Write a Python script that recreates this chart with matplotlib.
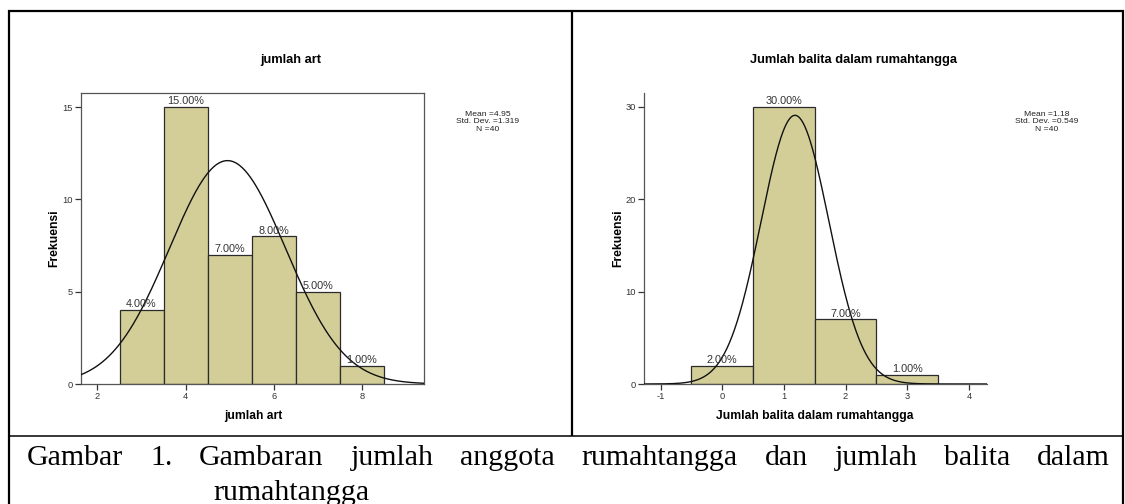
import numpy as np
import matplotlib
matplotlib.use("Agg")
import matplotlib.pyplot as plt
from matplotlib.lines import Line2D

plt.rcParams["axes.unicode_minus"] = False

# ---------------- data ----------------
art_edges = [2.5, 3.5, 4.5, 5.5, 6.5, 7.5, 8.5]
art_counts = [4, 15, 7, 8, 5, 1]
art_labels = ["4.00%", "15.00%", "7.00%", "8.00%", "5.00%", "1.00%"]
art_mean, art_sd, art_n = 4.95, 1.319, 40
art_xticks = [2, 4, 6, 8]
art_yticks = [0, 5, 10, 15]

bal_edges = [-0.5, 0.5, 1.5, 2.5, 3.5]
bal_counts = [2, 30, 7, 1]
bal_labels = ["2.00%", "30.00%", "7.00%", "1.00%"]
bal_mean, bal_sd, bal_n = 1.18, 0.549, 40
bal_xticks = [-1, 0, 1, 2, 3, 4]
bal_yticks = [0, 10, 20, 30]

title_left = "jumlah art"
title_right = "Jumlah balita dalam rumahtangga"
ylabel = "Frekuensi"
caption_line1 = "Gambar 1. Gambaran jumlah anggota rumahtangga dan jumlah balita dalam"
caption_line2 = "rumahtangga"

# ---------------- layout ----------------
W, H = 1125, 504
fig = plt.figure(figsize=(W / 100, H / 100), dpi=100)
fig.patch.set_facecolor("white")

SANS = ["Liberation Sans", "DejaVu Sans"]
SERIF = ["Liberation Serif", "DejaVu Serif"]
BAR_FC = "#D3CE98"
BAR_EC = "#2b2b2b"
SPINE_C = "#555555"


def fx(px):
    return px / W


def fy(py):
    return 1 - py / H


def px_axes(x0, y0, x1, y1):
    return fig.add_axes([fx(x0), fy(y1), fx(x1) - fx(x0), fy(y0) - fy(y1)])


def draw_hist(ax, edges, counts, labels, mean, sd, n, xlim, ylim, xticks, yticks, box):
    edges = np.asarray(edges, float)
    widths = np.diff(edges)
    ax.bar(edges[:-1], counts, width=widths, align="edge", color=BAR_FC,
           edgecolor=BAR_EC, linewidth=0.9, zorder=2)
    for left, w, c, lab in zip(edges[:-1], widths, counts, labels):
        ax.annotate(lab, (left + w / 2, c), xytext=(0, 0.5), textcoords="offset points",
                    ha="center", va="bottom", fontsize=7.8, color="#333333",
                    family=SANS, zorder=4)
    bw = widths[0]
    xs = np.linspace(xlim[0], xlim[1], 400)
    ys = n * bw * np.exp(-0.5 * ((xs - mean) / sd) ** 2) / (sd * np.sqrt(2 * np.pi))
    ax.plot(xs, ys, color="#111111", linewidth=1.0, zorder=3)
    ax.set_xlim(*xlim)
    ax.set_ylim(*ylim)
    ax.set_xticks(xticks)
    ax.set_yticks(yticks)
    ax.tick_params(direction="out", length=4, width=0.9, colors="#333333",
                   labelsize=6.7, pad=1.5)
    for lab in ax.get_xticklabels() + ax.get_yticklabels():
        lab.set_family(SANS)
    for side, sp in ax.spines.items():
        sp.set_color(SPINE_C)
        sp.set_linewidth(0.9)
        if not box and side in ("top", "right"):
            sp.set_visible(False)
    ax.set_facecolor("white")


# left panel
axL = px_axes(80.7, 93, 423.6, 384)
draw_hist(axL, art_edges, art_counts, art_labels, art_mean, art_sd, art_n,
          (1.619, 9.40), (0, 15.76), art_xticks, art_yticks, box=True)

# right panel
axR = px_axes(643.5, 93.3, 986.6, 384)
draw_hist(axR, bal_edges, bal_counts, bal_labels, bal_mean, bal_sd, bal_n,
          (-1.276, 4.286), (0, 31.45), bal_xticks, bal_yticks, box=False)

# titles and axis labels
fig.text(fx(291), fy(60), title_left, ha="center", va="center",
         fontsize=9.3, fontweight="bold", family=SANS)
fig.text(fx(854), fy(60.5), title_right, ha="center", va="center",
         fontsize=9.3, fontweight="bold", family=SANS)
fig.text(fx(253), fy(416), title_left, ha="center", va="center",
         fontsize=8.7, fontweight="bold", family=SANS)
fig.text(fx(815), fy(416), title_right, ha="center", va="center",
         fontsize=8.7, fontweight="bold", family=SANS)
fig.text(fx(54.5), fy(238), ylabel, ha="center", va="center", rotation=90,
         fontsize=8.7, fontweight="bold", family=SANS)
fig.text(fx(618), fy(238), ylabel, ha="center", va="center", rotation=90,
         fontsize=8.7, fontweight="bold", family=SANS)

# statistics boxes
def stats(xc, mean, sd, n):
    lines = [f"Mean ={mean:.2f}", f"Std. Dev. ={sd:.3f}", f"N ={n}"]
    for i, s in enumerate(lines):
        fig.text(fx(xc), fy(114.0 + 7.8 * i), s, ha="center", va="center",
                 fontsize=6.1, family=SANS, color="#222222")


stats(487.7, art_mean, art_sd, art_n)
stats(1047, bal_mean, bal_sd, bal_n)

# table borders
def fline(x0, y0, x1, y1, lw):
    fig.add_artist(Line2D([fx(x0), fx(x1)], [fy(y0), fy(y1)], color="black",
                          linewidth=lw, solid_capstyle="butt"))


fline(8, 11, 1124, 11, 1.6)        # top
fline(9, 10, 9, 504, 1.6)          # left
fline(1123, 10, 1123, 504, 1.6)    # right
fline(572, 10, 572, 436, 1.6)      # divider
fline(8, 436, 1124, 436, 1.1)      # row separator

# caption (justified first line)
renderer = fig.canvas.get_renderer()
words = caption_line1.split(" ")
cap_kw = dict(fontsize=21.5, family=SERIF, va="baseline", ha="left", color="black")
texts = [fig.text(0, fy(465), w, **cap_kw) for w in words]
widths = [t.get_window_extent(renderer).width for t in texts]
x_left, x_right = 27, 1110
gap = (x_right - x_left - sum(widths)) / (len(words) - 1)
x = x_left
for t, w in zip(texts, widths):
    t.set_x(fx(x))
    x += w + gap
fig.text(fx(213), fy(500), caption_line2, **cap_kw)

fig.savefig("out.png", dpi=100, facecolor="white")
